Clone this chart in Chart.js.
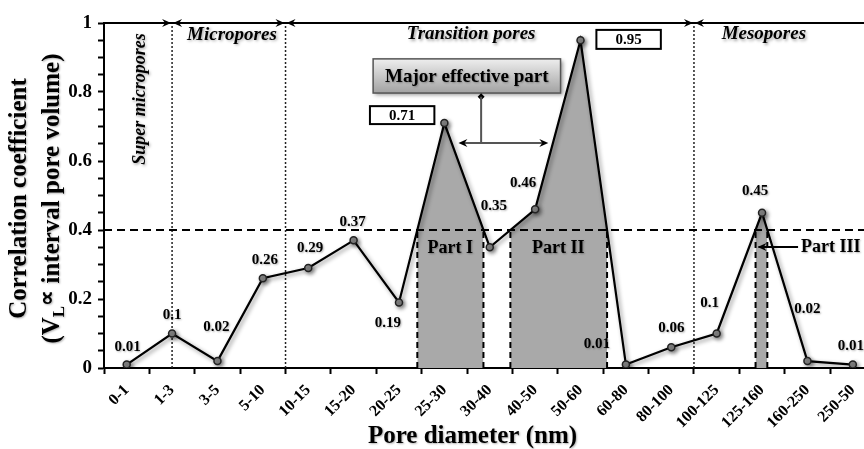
<!DOCTYPE html>
<html>
<head>
<meta charset="utf-8">
<script src="https://cdn.jsdelivr.net/npm/chart.js@4.4.1/dist/chart.umd.min.js"></script>
<style>
  html, body { margin: 0; padding: 0; background: #fff; overflow: hidden; }
  #wrap { position: relative; width: 881px; height: 449px; }
</style>
</head>
<body>
<div id="wrap"><canvas id="poreChart"></canvas></div>
<script>
// ---- data ----
const poreRanges = ["0-1", "1-3", "3-5", "5-10", "10-15", "15-20", "20-25", "25-30", "30-40",
  "40-50", "50-60", "60-80", "80-100", "100-125", "125-160", "160-250", "250-50"];
const correlation = [0.01, 0.1, 0.02, 0.26, 0.29, 0.37, 0.19, 0.71, 0.35,
  0.46, 0.95, 0.01, 0.06, 0.1, 0.45, 0.02, 0.01];
const threshold = 0.4;
// one index inside each effective part, the part grows to where the curve drops under the threshold
const partSeeds = [7, 10, 14];
const partNames = ["Part I", "Part II", "Part III"];
// pore class borders, in category units
const classBounds = [1, 3.5, 12.5];
const classNames = ["Super micropores", "Micropores", "Transition pores", "Mesopores"];
const boxedValues = [7, 10];

// ---- layout bits (pixels / data units) ----
const serif = '"Liberation Serif", "Times New Roman", serif';
const labelShift = [[1, -17], [0, -18], [-1, -34], [2, -18], [2, -20], [-1, -18], [-11, 21], null,
  [4, -41], [-12, -26], null, [-29, -20], [0, -19], [-7, -30], [-7, -22], [0, -52], [-2, -18]];
const valueBoxes = { 7: [5.36, 6.78, 0.759, 0.707], 10: [10.35, 11.77, 0.98, 0.925] };
const classLabelPos = [[0.29, 0.78], [2.32, 0.965], [7.59, 0.967], [14.04, 0.967]];
const partLabelPos = [[7.13, 0.348], [9.51, 0.348], [14.86, 0.351]];

function findPart(seed) {
  let a = seed, b = seed;
  while (a > 0 && correlation[a - 1] >= threshold) a--;
  while (b < correlation.length - 1 && correlation[b + 1] >= threshold) b++;
  const cross = i => i + (threshold - correlation[i]) / (correlation[i + 1] - correlation[i]);
  const x0 = cross(a - 1), x1 = cross(b);
  const pts = [{ x: x0, y: threshold }];
  for (let k = a; k <= b; k++) pts.push({ x: k, y: correlation[k] });
  pts.push({ x: x1, y: threshold });
  return { x0, x1, pts };
}
const parts = partSeeds.map(findPart);

function shadow(c, blur, off, alpha) {
  c.shadowColor = 'rgba(0,0,0,' + (alpha || 0.35) + ')';
  c.shadowBlur = blur;
  c.shadowOffsetX = off;
  c.shadowOffsetY = off;
}

function arrowHead(c, x, y, dir) {
  c.beginPath();
  c.moveTo(x, y);
  c.lineTo(x - dir * 9, y - 4);
  c.lineTo(x - dir * 6, y);
  c.lineTo(x - dir * 9, y + 4);
  c.closePath();
  c.fill();
}

const decor = {
  id: 'decor',
  beforeDatasetsDraw(chart) {
    const c = chart.ctx, xs = chart.scales.x, ys = chart.scales.y;
    c.save();
    c.strokeStyle = '#222';
    c.lineWidth = 1.5;
    c.setLineDash([2, 2]);
    classBounds.forEach(b => {
      const px = xs.getPixelForValue(b);
      c.beginPath();
      c.moveTo(px, ys.getPixelForValue(0));
      c.lineTo(px, ys.getPixelForValue(1));
      c.stroke();
    });
    c.restore();
  },
  beforeDatasetDraw(chart, args) {
    if (args.index !== 0) return;
    chart.ctx.save();
    shadow(chart.ctx, 4, 2, 0.45);
  },
  afterDatasetDraw(chart, args) {
    if (args.index !== 0) return;
    chart.ctx.restore();
  },
  afterDatasetsDraw(chart) {
    const c = chart.ctx, xs = chart.scales.x, ys = chart.scales.y, area = chart.chartArea;
    const X = v => xs.getPixelForValue(v), Y = v => ys.getPixelForValue(v);
    c.save();

    // threshold line
    c.strokeStyle = '#000';
    c.lineWidth = 2;
    c.setLineDash([8, 5]);
    c.beginPath();
    c.moveTo(area.left, Y(threshold));
    c.lineTo(area.right, Y(threshold));
    c.stroke();

    // borders of the effective parts
    c.setLineDash([6, 4]);
    parts.forEach(p => {
      [p.x0, p.x1].forEach(xv => {
        c.beginPath();
        c.moveTo(X(xv), Y(0));
        c.lineTo(X(xv), Y(threshold));
        c.stroke();
      });
    });
    c.setLineDash([]);

    // point values
    c.textAlign = 'center';
    c.textBaseline = 'middle';
    c.fillStyle = '#000';
    c.font = 'bold 15px ' + serif;
    correlation.forEach((v, i) => {
      const s = labelShift[i];
      if (!s) return;
      c.save();
      shadow(c, 2, 1, 0.3);
      c.fillText(String(v), X(i) + s[0], Y(v) + s[1]);
      c.restore();
    });

    // boxed peak values
    boxedValues.forEach(i => {
      const b = valueBoxes[i];
      const l = X(b[0]), r = X(b[1]), t = Y(b[2]), btm = Y(b[3]);
      c.fillStyle = '#fff';
      c.fillRect(l, t, r - l, btm - t);
      c.strokeStyle = '#000';
      c.lineWidth = 2;
      c.strokeRect(l, t, r - l, btm - t);
      c.fillStyle = '#000';
      c.fillText(String(correlation[i]), (l + r) / 2, (t + btm) / 2 + 1);
    });

    // part names
    c.font = 'bold 18px ' + serif;
    partNames.forEach((n, k) => {
      const p = partLabelPos[k];
      c.textAlign = k === 2 ? 'left' : 'center';
      c.save();
      shadow(c, 2, 1, 0.3);
      c.fillText(n, X(p[0]), Y(p[1]));
      c.restore();
    });
    // arrow pointing at part III
    const p3 = partLabelPos[2];
    c.strokeStyle = '#000';
    c.lineWidth = 2;
    c.beginPath();
    c.moveTo(X(p3[0]) - 3, Y(p3[1]));
    c.lineTo(X(parts[2].x0) + 3, Y(p3[1]));
    c.stroke();
    arrowHead(c, X(parts[2].x0) + 2, Y(p3[1]), -1);

    // "Major effective part" callout
    const bl = X(5.43), br = X(9.56), bt = Y(0.896), bb = Y(0.797);
    const g = c.createLinearGradient(0, bt, 0, bb);
    g.addColorStop(0, '#eeeeee');
    g.addColorStop(1, '#a2a2a2');
    c.save();
    shadow(c, 4, 2, 0.4);
    c.fillStyle = g;
    c.fillRect(bl, bt, br - bl, bb - bt);
    c.restore();
    c.strokeStyle = '#555';
    c.lineWidth = 1.5;
    c.strokeRect(bl, bt, br - bl, bb - bt);
    c.fillStyle = '#000';
    c.textAlign = 'center';
    c.font = 'bold 19px ' + serif;
    c.save();
    shadow(c, 2, 1, 0.3);
    c.fillText('Major effective part', (bl + br) / 2, (bt + bb) / 2 + 1);
    c.restore();

    const sx = X(7.81), dy = Y(0.786), ay = Y(0.652);
    c.beginPath();
    c.moveTo(sx, dy - 3.5); c.lineTo(sx + 3.5, dy); c.lineTo(sx, dy + 3.5); c.lineTo(sx - 3.5, dy);
    c.closePath();
    c.fill();
    c.lineWidth = 2;
    c.beginPath();
    c.moveTo(sx, dy);
    c.lineTo(sx, ay);
    c.moveTo(X(7.31) + 4, ay);
    c.lineTo(X(9.29) - 4, ay);
    c.stroke();
    arrowHead(c, X(7.31), ay, -1);
    arrowHead(c, X(9.29), ay, 1);

    c.restore();
  },
  afterDraw(chart) {
    const c = chart.ctx, xs = chart.scales.x, ys = chart.scales.y, area = chart.chartArea;
    const X = v => xs.getPixelForValue(v), Y = v => ys.getPixelForValue(v);
    c.save();

    // pore class ranges along the top
    const ty = Y(1);
    c.strokeStyle = '#000';
    c.fillStyle = '#000';
    c.lineWidth = 2;
    c.beginPath();
    c.moveTo(area.left, ty);
    c.lineTo(area.right, ty);
    c.stroke();
    classBounds.forEach(b => {
      arrowHead(c, X(b) - 1, ty, 1);
      arrowHead(c, X(b) + 1, ty, -1);
    });

    c.font = 'bold italic 19px ' + serif;
    c.textBaseline = 'middle';
    c.textAlign = 'center';
    classNames.forEach((n, k) => {
      const p = classLabelPos[k];
      c.save();
      shadow(c, 3, 1.5, 0.35);
      c.translate(X(p[0]), Y(p[1]));
      if (k === 0) {
        c.rotate(-Math.PI / 2);
        c.font = 'bold italic 18px ' + serif;
      }
      c.fillText(n, 0, 0);
      c.restore();
    });

    // axis titles
    c.font = 'bold 25px ' + serif;
    c.save();
    shadow(c, 2, 1, 0.3);
    c.fillText('Pore diameter (nm)', X(7.62), area.bottom + 69);
    c.restore();

    const midY = (area.top + area.bottom) / 2 + 3;
    c.save();
    shadow(c, 2, 1, 0.3);
    c.translate(20, midY);
    c.rotate(-Math.PI / 2);
    c.fillText('Correlation coefficient', 0, 0);
    c.restore();

    // second title line with subscript
    const pieces = [
      { t: '(', f: 'bold 25px ' + serif, dy: 0 },
      { t: 'V', f: 'bold 25px ' + serif, dy: 0 },
      { t: 'L', f: 'bold 17px ' + serif, dy: 7 },
      { t: '\u221D', f: 'bold 22px ' + serif, dy: -5 },
      { t: ' interval pore volume)', f: 'bold 25px ' + serif, dy: 0 }
    ];
    let total = 0;
    pieces.forEach(p => { c.font = p.f; p.w = c.measureText(p.t).width; total += p.w; });
    c.save();
    shadow(c, 2, 1, 0.3);
    c.translate(53, midY);
    c.rotate(-Math.PI / 2);
    c.textAlign = 'left';
    let cx = -total / 2;
    pieces.forEach(p => {
      c.font = p.f;
      c.fillText(p.t, cx, p.dy);
      cx += p.w;
    });
    c.restore();

    c.restore();
  }
};

const datasets = [{
  label: 'Correlation coefficient',
  data: correlation.map((v, i) => ({ x: i, y: v })),
  borderColor: '#000',
  borderWidth: 2.2,
  tension: 0,
  fill: false,
  pointRadius: 3.5,
  pointBackgroundColor: '#8a8a8a',
  pointBorderColor: '#222',
  pointBorderWidth: 1.5
}].concat(parts.map((p, k) => ({
  label: partNames[k],
  data: p.pts,
  borderWidth: 0,
  borderColor: 'rgba(0,0,0,0)',
  backgroundColor: '#a9a9a9',
  fill: 'origin',
  pointRadius: 0,
  tension: 0
})));

new Chart(document.getElementById('poreChart'), {
  type: 'line',
  data: { datasets },
  options: {
    responsive: true,
    maintainAspectRatio: false,
    animation: false,
    layout: { padding: { top: 23, right: 0, bottom: 0, left: 0 } },
    plugins: { legend: { display: false }, tooltip: { enabled: false } },
    scales: {
      x: {
        type: 'linear',
        min: -0.5,
        max: poreRanges.length - 0.5,
        afterBuildTicks: s => { s.ticks = poreRanges.map((_, i) => ({ value: i })); },
        afterFit: s => { s.height = 81; s.paddingLeft = 0; s.paddingRight = 0; },
        ticks: {
          autoSkip: false,
          minRotation: 45,
          maxRotation: 45,
          padding: 7,
          color: '#000',
          font: { family: serif, size: 16, weight: 'bold' },
          callback: v => poreRanges[v]
        },
        grid: { offset: true, drawOnChartArea: false, tickLength: 6, tickWidth: 2, tickColor: '#000' },
        border: { display: true, color: '#000', width: 2 }
      },
      y: {
        min: 0,
        max: 1,
        afterFit: s => { s.width = 104; s.paddingTop = 0; s.paddingBottom = 0; },
        ticks: {
          stepSize: 0.05,
          autoSkip: false,
          padding: 6,
          color: '#000',
          font: { family: serif, size: 19, weight: 'bold' },
          callback: v => {
            const k = Math.round(v * 20);
            return k % 4 === 0 ? String(k / 20) : '';
          }
        },
        grid: { drawOnChartArea: false, tickLength: 6, tickWidth: 2, tickColor: '#000' },
        border: { display: true, color: '#000', width: 2 }
      }
    }
  },
  plugins: [decor]
});
</script>
</body>
</html>
